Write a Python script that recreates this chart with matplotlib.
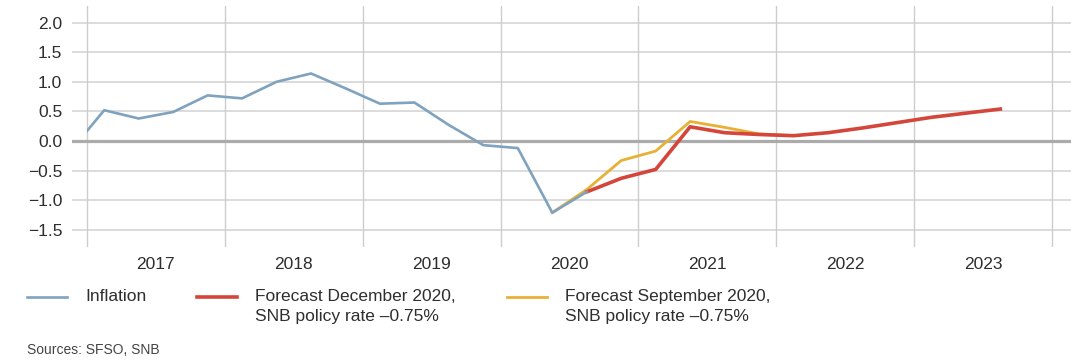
import numpy as np
import matplotlib
matplotlib.use("Agg")
import matplotlib.pyplot as plt
from matplotlib.lines import Line2D
from matplotlib.patches import Rectangle

plt.rcParams['font.family'] = ['Liberation Sans', 'DejaVu Sans']

# quarterly data, x = year + (quarter - 0.5) / 4
infl_start = (2016, 4)
inflation = [-0.18, 0.52, 0.38, 0.49, 0.77, 0.72, 1.00, 1.14, 0.89, 0.63,
             0.65, 0.27, -0.07, -0.12, -1.21, -0.86]
dec_start = (2020, 3)
forecast_dec = [-0.86, -0.63, -0.48, 0.24, 0.14, 0.11, 0.09, 0.14, 0.22,
                0.31, 0.40, 0.47, 0.54]
sep_start = (2020, 2)
forecast_sep = [-1.21, -0.82, -0.33, -0.17, 0.33, 0.23, 0.12, 0.09]

years = [2017, 2018, 2019, 2020, 2021, 2022, 2023]
yticks = [-1.5, -1.0, -0.5, 0.0, 0.5, 1.0, 1.5, 2.0]

labels = ["Inflation",
          "Forecast December 2020,\nSNB policy rate \u20130.75%",
          "Forecast September 2020,\nSNB policy rate \u20130.75%"]
colors = ["#7fa2bf", "#d4453a", "#e8b135"]


def qx(start, n):
    y0, q0 = start
    idx = np.arange(n) + (q0 - 1)
    return y0 + (idx + 0.5) / 4.0


W, H = 1071, 360
fig = plt.figure(figsize=(W / 100, H / 100), dpi=100)
ax = fig.add_axes([72 / W, 1 - 247 / H, 1 - 72 / W, (247 - 6) / H])

ax.set_xlim(2017 - 15 / 138, 2024 + 19 / 138)
ax.set_ylim(-1.79, 2.28)

for s in ax.spines.values():
    s.set_visible(False)

# grid
for yv in yticks:
    if yv == 0:
        ax.axhline(yv, color="#ababab", lw=2.3, zorder=2)
    else:
        ax.axhline(yv, color="#d2d2d2", lw=1.1, zorder=1)
for yr in years + [2024]:
    ax.axvline(yr, color="#cdcdcd", lw=1.0, zorder=1)

clip = Rectangle((2017, -5), 10, 10, transform=ax.transData)

l_sep, = ax.plot(qx(sep_start, len(forecast_sep)), forecast_sep,
                 color=colors[2], lw=2.0, zorder=3, solid_joinstyle="round")
l_dec, = ax.plot(qx(dec_start, len(forecast_dec)), forecast_dec,
                 color=colors[1], lw=2.6, zorder=4, solid_joinstyle="round")
l_inf, = ax.plot(qx(infl_start, len(inflation)), inflation,
                 color=colors[0], lw=1.9, zorder=5, solid_joinstyle="round")
l_inf.set_clip_path(clip)

ax.set_yticks(yticks)
ax.set_yticklabels([f"{v:.1f}".replace("-", "\u2212") for v in yticks])
ax.set_xticks([y + 0.5 for y in years])
ax.set_xticklabels([str(y) for y in years])
ax.tick_params(axis="both", length=0, labelsize=12.5, colors="#2e2e2e")
ax.tick_params(axis="y", pad=7)
ax.tick_params(axis="x", pad=7)

# legend, handle aligned with first text line
leg_x = [27, 197, 507]
lines_w = [1.9, 2.6, 2.0]
for x0, lab, c, lw in zip(leg_x, labels, colors, lines_w):
    yf = 1 - 297 / H
    fig.add_artist(Line2D([x0 / W, (x0 + 40) / W], [yf, yf], color=c, lw=lw,
                          transform=fig.transFigure))
    fig.text((x0 + 58) / W, 1 - 289 / H, lab, ha="left", va="top",
             fontsize=12.5, color="#2e2e2e", linespacing=1.45)

fig.text(27 / W, 1 - 350 / H, "Sources: SFSO, SNB", ha="left", va="center",
         fontsize=10, color="#444444")

fig.savefig("out.png", dpi=100)
